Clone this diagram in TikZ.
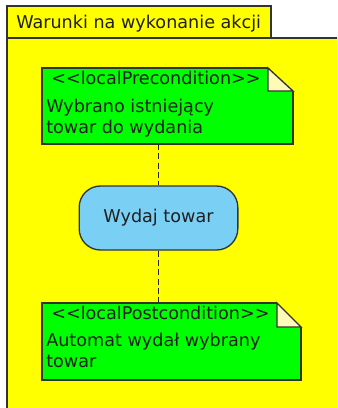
\documentclass[tikz,border=0pt]{standalone}
\usepackage{fontspec}
\setmainfont{DejaVu Sans}
\usepackage{tikz}
\usetikzlibrary{positioning, calc}

\definecolor{frameyellow}{HTML}{FFFF00}
\definecolor{notegreen}{HTML}{00FF00}
\definecolor{actionblue}{HTML}{7ACFF5}
\definecolor{foldyellow}{HTML}{FFFAB8}
\definecolor{linegray}{HTML}{333333}

\newcommand{\stereo}[1]{<\kern0pt<#1>\kern0pt>}

\tikzset{
  every node/.style={font=\fontsize{13.2}{15.5}\selectfont, text=black!88},
  note/.style={draw=linegray, fill=notegreen, line width=1pt},
  notetext/.style={anchor=base west, align=left, inner sep=0pt},
  action/.style={draw=linegray, fill=actionblue, line width=1pt, rounded corners=16pt, minimum width=119pt, minimum height=48pt},
  fold/.style={draw=linegray, fill=foldyellow, line width=1pt, line join=miter},
  dashlink/.style={draw=black!85, line width=1.1pt, dash pattern=on 4.5pt off 2.5pt}
}

\begin{document}
\begin{tikzpicture}[x=0.75pt, y=-0.75pt]
					\useasboundingbox (0,0) rectangle (337,408);
					\clip (0,0) rectangle (337,408);
					
					% frame and tab
					\fill [frameyellow] (7,38) rectangle (350,420);
					\draw [linegray, line width=1pt] (7,420) -- (7,38) -- (350,38);
					\draw [linegray, fill=frameyellow, line width=1pt] (7,38) rectangle (271,6);
					\node [notetext] (title) at (16,28) {Warunki na wykonanie akcji};
					
					% notes
					\draw [note] (42,68) rectangle (293,144);
					\draw [note] (42,303) rectangle (301,380);
					\coordinate (preNE) at (293,68);
					\coordinate (postNE) at (301,303);
					\fill [frameyellow] ($(preNE)+(-25,0)$) -- ($(preNE)+(-25,-1)$) -- ($(preNE)+(1,-1)$) -- ($(preNE)+(1,23)$) -- ($(preNE)+(0,23)$) -- cycle;
					\draw [fold] ($(preNE)+(-25,0)$) -- ($(preNE)+(-25,23)$) -- ($(preNE)+(0,23)$) -- cycle;
					\fill [frameyellow] ($(postNE)+(-24,0)$) -- ($(postNE)+(-24,-1)$) -- ($(postNE)+(1,-1)$) -- ($(postNE)+(1,24)$) -- ($(postNE)+(0,24)$) -- cycle;
					\draw [fold] ($(postNE)+(-24,0)$) -- ($(postNE)+(-24,24)$) -- ($(postNE)+(0,24)$) -- cycle;
					
					\node [notetext] (pre) at (51,84) {\stereo{localPrecondition}};
					\node [notetext] (preText) at (46,133) {Wybrano istniejący\\towar do wydania};
					\node [notetext] (post) at (51,319) {\stereo{localPostcondition}};
					\node [notetext] (postText) at (46,367) {Automat wydał wybrany\\towar};
					
					% action
					\node [action] (act) at (158.5,218) {Wydaj towar};
					\coordinate (preS) at (158.5,144);
					\coordinate (postN) at (158.5,303);
					\draw [dashlink] (preS) -- (act.north);
					\draw [dashlink] (act.south) -- (postN);
					\end{tikzpicture}
\end{document}
